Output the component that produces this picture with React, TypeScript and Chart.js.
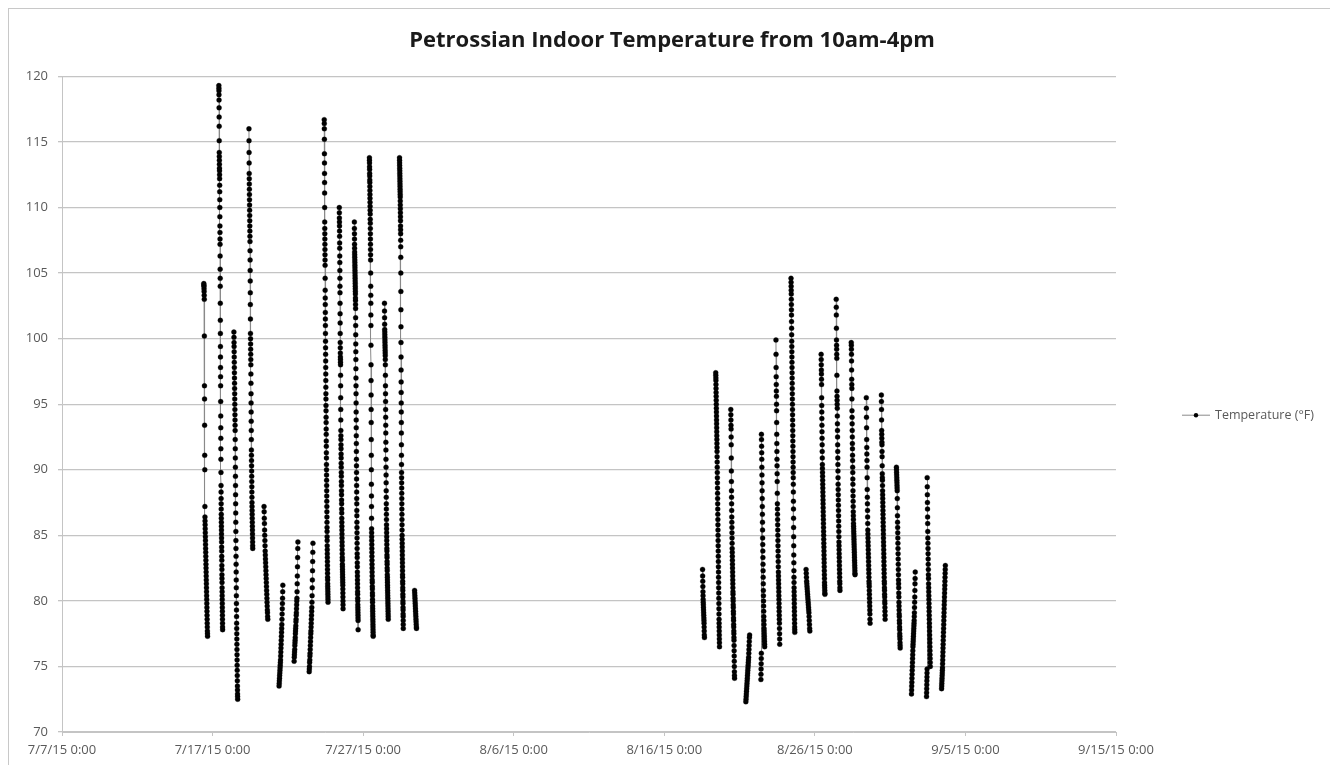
import React, { useEffect, useRef } from 'react';
import { Chart, registerables } from 'chart.js';

Chart.register(...registerables);

const TITLE = 'Petrossian Indoor Temperature from 10am-4pm';
const SERIES_LABEL = 'Temperature (°F)';

// axis range
const X_START = '2015-07-07';
const X_END = '2015-09-15';
const X_STEP_DAYS = 10;
const Y_MIN = 70;
const Y_MAX = 120;
const Y_STEP = 5;

// readings (°F), in time order, for each logged day (10am-4pm window)
const jul16 = [104.2, 104.1, 104.0, 103.8, 103.6, 103.3, 103.0, 100.2, 96.4, 95.4, 93.4, 91.1, 90.0, 87.2, 86.4, 86.1, 85.8, 85.5, 85.2, 84.9, 84.6, 84.3, 84.0, 83.7, 83.4, 83.1, 82.8, 82.5, 82.2, 81.9, 81.6, 81.3, 81.0, 80.7, 80.4, 80.1, 79.8, 79.5, 79.2, 78.9, 78.6, 78.3, 78.0, 77.7, 77.5, 77.3];
const jul17 = [119.3, 119.1, 118.9, 118.6, 118.2, 117.6, 116.9, 116.2, 115.1, 114.2, 113.9, 113.6, 113.3, 113.0, 112.8, 112.5, 112.2, 111.7, 111.2, 110.6, 110.0, 109.3, 108.6, 108.1, 107.6, 107.2, 106.3, 105.3, 104.6, 104.0, 102.7, 101.4, 100.4, 99.4, 98.6, 97.8, 97.1, 96.4, 95.2, 94.1, 93.2, 92.4, 91.6, 90.8, 89.8, 88.8, 88.3, 87.8, 87.4, 87.0, 86.6, 86.3, 86.0, 85.7, 85.4, 85.1, 84.8, 84.5, 84.1, 83.8, 83.4, 83.1, 82.7, 82.4, 82.0, 81.7, 81.4, 81.0, 80.7, 80.4, 80.1, 79.8, 79.5, 79.2, 78.9, 78.6, 78.3, 78.0, 77.8];
const jul18 = [100.5, 100.1, 99.7, 99.4, 99.0, 98.6, 98.2, 97.8, 97.4, 97.0, 96.6, 96.2, 95.8, 95.4, 95.0, 94.6, 94.2, 93.8, 93.4, 93.0, 92.3, 91.6, 90.9, 90.2, 89.5, 88.8, 88.1, 87.4, 86.7, 86.0, 85.3, 84.6, 84.0, 83.4, 82.8, 82.2, 81.6, 81.0, 80.4, 79.8, 79.3, 78.8, 78.3, 77.9, 77.5, 77.1, 76.7, 76.3, 75.9, 75.5, 75.1, 74.7, 74.3, 73.9, 73.5, 73.2, 72.9, 72.7, 72.5];
const jul19 = [116.0, 115.1, 114.2, 113.4, 112.6, 112.2, 111.8, 111.4, 111.0, 110.6, 110.2, 109.8, 109.4, 109.0, 108.6, 108.2, 107.8, 107.4, 106.7, 106.0, 105.2, 104.4, 103.5, 102.6, 101.5, 100.4, 100.0, 99.6, 99.2, 98.8, 98.4, 98.0, 97.3, 96.6, 95.8, 95.1, 94.4, 93.7, 93.0, 92.3, 91.5, 91.1, 90.7, 90.3, 89.9, 89.5, 89.1, 88.7, 88.3, 87.9, 87.5, 87.2, 86.9, 86.6, 86.3, 86.0, 85.7, 85.4, 85.1, 84.8, 84.5, 84.2, 84.0];
const jul20 = [87.2, 86.8, 86.3, 85.9, 85.4, 85.0, 84.6, 84.2, 83.8, 83.5, 83.2, 82.9, 82.6, 82.3, 82.0, 81.7, 81.4, 81.1, 80.8, 80.5, 80.2, 79.9, 79.6, 79.3, 79.1, 78.8, 78.6];
const jul21 = [73.5, 73.7, 73.9, 74.1, 74.3, 74.5, 74.7, 74.9, 75.1, 75.3, 75.5, 75.8, 76.1, 76.4, 76.7, 77.0, 77.3, 77.6, 77.9, 78.2, 78.6, 79.0, 79.4, 79.8, 80.2, 80.7, 81.2];
const jul22 = [75.4, 75.7, 75.9, 76.1, 76.3, 76.6, 76.8, 77.0, 77.2, 77.5, 77.7, 77.9, 78.1, 78.4, 78.6, 78.9, 79.1, 79.4, 79.7, 80.0, 80.2, 80.7, 81.3, 81.9, 82.6, 83.3, 84.0, 84.5];
const jul23 = [74.6, 74.8, 75.0, 75.3, 75.5, 75.8, 76.0, 76.3, 76.6, 76.9, 77.2, 77.5, 77.7, 78.0, 78.3, 78.6, 78.9, 79.2, 79.5, 79.9, 80.4, 81.0, 81.6, 82.3, 83.0, 83.7, 84.4];
const jul24 = [116.7, 116.4, 116.0, 115.2, 114.1, 113.4, 112.6, 111.9, 111.1, 110.0, 108.9, 108.4, 108.0, 107.6, 107.2, 106.8, 106.4, 106.0, 105.6, 104.6, 103.7, 103.1, 102.6, 102.0, 101.5, 101.0, 100.4, 99.8, 99.3, 98.8, 98.3, 97.8, 97.3, 96.8, 96.3, 95.8, 95.4, 94.9, 94.5, 94.0, 93.6, 93.1, 92.7, 92.2, 91.8, 91.3, 90.9, 90.4, 90.0, 89.6, 89.2, 88.8, 88.4, 88.0, 87.6, 87.2, 86.8, 86.4, 86.0, 85.6, 85.3, 84.9, 84.6, 84.2, 83.9, 83.6, 83.3, 83.0, 82.7, 82.4, 82.1, 81.8, 81.6, 81.3, 81.1, 80.9, 80.7, 80.5, 80.3, 80.1, 79.9];
const jul25 = [110.0, 109.6, 109.2, 108.9, 108.6, 108.2, 107.8, 107.3, 106.9, 106.3, 105.8, 105.2, 104.6, 104.0, 103.5, 102.7, 101.9, 101.2, 100.4, 99.7, 99.3, 98.9, 98.6, 98.4, 98.2, 98.0, 97.2, 96.4, 95.5, 94.6, 93.8, 93.0, 92.6, 92.3, 91.9, 91.6, 91.2, 90.9, 90.5, 90.2, 89.8, 89.5, 89.1, 88.8, 88.4, 88.1, 87.7, 87.4, 87.0, 86.7, 86.3, 86.0, 85.7, 85.4, 85.1, 84.8, 84.5, 84.2, 83.9, 83.6, 83.3, 83.1, 82.8, 82.6, 82.4, 82.2, 82.0, 81.8, 81.6, 81.4, 81.2, 80.9, 80.6, 80.3, 80.0, 79.7, 79.4];
const jul26 = [108.9, 108.4, 108.0, 107.6, 107.2, 106.9, 106.6, 106.4, 106.2, 106.0, 105.8, 105.6, 105.4, 105.2, 105.0, 104.8, 104.6, 104.4, 104.2, 104.0, 103.8, 103.6, 103.4, 103.1, 102.9, 102.6, 102.3, 101.6, 101.0, 100.3, 99.6, 99.0, 98.4, 97.7, 97.0, 96.4, 95.8, 95.1, 94.4, 93.8, 93.2, 92.6, 92.0, 91.4, 90.8, 90.3, 89.8, 89.3, 88.8, 88.3, 87.8, 87.4, 86.9, 86.5, 86.0, 85.6, 85.2, 84.8, 84.4, 84.0, 83.6, 83.3, 82.9, 82.6, 82.2, 81.9, 81.6, 81.3, 81.0, 80.7, 80.5, 80.2, 80.0, 79.7, 79.5, 79.3, 79.1, 78.9, 78.7, 78.5, 77.8];
const jul27 = [113.8, 113.6, 113.4, 113.1, 112.9, 112.6, 112.4, 112.1, 111.9, 111.6, 111.3, 111.0, 110.7, 110.4, 110.1, 109.8, 109.5, 109.1, 108.8, 108.4, 108.0, 107.6, 107.2, 106.8, 106.4, 106.0, 105.0, 104.0, 103.3, 102.7, 101.8, 101.0, 99.5, 98.0, 96.8, 95.7, 94.6, 93.6, 92.3, 91.1, 90.0, 88.9, 88.0, 87.2, 86.3, 85.5, 85.2, 84.9, 84.6, 84.3, 84.0, 83.7, 83.4, 83.1, 82.8, 82.5, 82.2, 81.9, 81.6, 81.4, 81.1, 80.9, 80.6, 80.4, 80.1, 79.9, 79.6, 79.4, 79.2, 79.0, 78.8, 78.6, 78.4, 78.2, 78.0, 77.8, 77.6, 77.4, 77.3];
const jul28 = [102.7, 102.1, 101.6, 101.1, 100.7, 100.5, 100.3, 100.1, 99.9, 99.7, 99.5, 99.3, 99.1, 98.9, 98.7, 98.4, 98.0, 97.2, 96.4, 95.8, 95.2, 94.6, 94.0, 93.4, 92.8, 92.1, 91.5, 90.8, 90.2, 89.6, 89.0, 88.4, 87.9, 87.4, 87.0, 86.6, 86.2, 85.8, 85.5, 85.2, 84.9, 84.6, 84.3, 84.0, 83.8, 83.5, 83.3, 83.0, 82.8, 82.5, 82.3, 82.0, 81.8, 81.6, 81.4, 81.2, 81.0, 80.8, 80.6, 80.4, 80.2, 80.0, 79.8, 79.6, 79.4, 79.2, 79.0, 78.8, 78.6];
const jul29 = [113.8, 113.6, 113.4, 113.2, 113.0, 112.8, 112.6, 112.4, 112.2, 112.0, 111.8, 111.6, 111.4, 111.2, 111.0, 110.8, 110.5, 110.2, 109.9, 109.6, 109.3, 109.0, 108.6, 108.3, 108.0, 107.5, 107.0, 106.2, 105.0, 103.6, 102.2, 100.9, 99.7, 98.6, 97.6, 96.7, 95.9, 95.1, 94.4, 93.6, 92.8, 91.9, 91.1, 90.4, 89.8, 89.4, 89.0, 88.6, 88.2, 87.8, 87.4, 87.0, 86.6, 86.2, 85.8, 85.4, 85.0, 84.7, 84.4, 84.1, 83.8, 83.5, 83.2, 82.9, 82.6, 82.3, 82.0, 81.8, 81.5, 81.3, 81.0, 80.8, 80.5, 80.3, 80.0, 79.8, 79.5, 79.3, 79.0, 78.8, 78.5, 78.2, 77.9];
const jul30 = [80.8, 80.6, 80.4, 80.2, 80.0, 79.8, 79.6, 79.4, 79.2, 79.0, 78.8, 78.6, 78.4, 78.2, 78.0, 77.9];

const aug18 = [82.4, 81.9, 81.5, 81.1, 80.7, 80.4, 80.1, 79.9, 79.7, 79.5, 79.3, 79.1, 78.9, 78.7, 78.5, 78.3, 78.0, 77.7, 77.4, 77.2];
const aug19 = [97.4, 97.2, 97.0, 96.8, 96.5, 96.2, 95.9, 95.6, 95.3, 95.0, 94.7, 94.4, 94.1, 93.8, 93.5, 93.2, 92.9, 92.6, 92.3, 92.0, 91.7, 91.4, 91.0, 90.6, 90.2, 89.8, 89.4, 89.0, 88.6, 88.2, 87.8, 87.4, 87.0, 86.6, 86.2, 85.8, 85.4, 85.0, 84.6, 84.2, 83.8, 83.4, 83.0, 82.6, 82.2, 81.8, 81.4, 81.0, 80.6, 80.2, 79.8, 79.4, 79.0, 78.6, 78.3, 78.0, 77.7, 77.4, 77.1, 76.8, 76.5];
const aug20 = [94.6, 94.2, 93.8, 93.4, 93.1, 92.5, 91.9, 90.9, 89.9, 89.1, 88.4, 87.9, 87.4, 86.9, 86.4, 86.0, 85.6, 85.2, 84.8, 84.4, 84.0, 83.7, 83.4, 83.1, 82.8, 82.5, 82.2, 81.9, 81.6, 81.3, 81.0, 80.7, 80.5, 80.2, 80.0, 79.7, 79.5, 79.2, 79.0, 78.7, 78.5, 78.2, 78.0, 77.7, 77.5, 77.2, 77.0, 76.6, 76.2, 75.8, 75.4, 75.0, 74.6, 74.3, 74.1];
const aug21 = [72.3, 72.5, 72.7, 72.9, 73.1, 73.3, 73.5, 73.7, 73.9, 74.1, 74.3, 74.5, 74.7, 74.9, 75.1, 75.3, 75.5, 75.7, 76.0, 76.3, 76.6, 76.9, 77.2, 77.4];
const aug22 = [74.0, 74.4, 74.8, 75.2, 75.6, 76.0, 92.7, 92.3, 91.8, 91.3, 90.8, 90.2, 89.6, 89.0, 88.4, 87.8, 87.2, 86.6, 86.0, 85.4, 84.8, 84.3, 83.8, 83.3, 82.8, 82.3, 81.8, 81.3, 80.8, 80.4, 80.0, 79.6, 79.2, 78.8, 78.5, 78.2, 77.9, 77.7, 77.5, 77.3, 77.1, 76.9, 76.7, 76.5];
const aug23 = [99.9, 98.8, 97.8, 97.1, 96.5, 96.0, 95.6, 95.0, 94.5, 93.6, 92.7, 92.0, 91.4, 90.8, 90.3, 89.7, 89.1, 88.2, 87.4, 87.0, 86.6, 86.2, 85.8, 85.4, 85.0, 84.6, 84.2, 83.8, 83.4, 83.0, 82.6, 82.2, 81.9, 81.6, 81.3, 81.0, 80.7, 80.4, 80.1, 79.8, 79.5, 79.2, 78.9, 78.6, 78.3, 77.9, 77.5, 77.1, 76.7];
const aug24 = [104.6, 104.3, 104.0, 103.7, 103.4, 103.0, 102.6, 102.2, 101.8, 101.3, 100.8, 100.3, 99.8, 99.4, 99.0, 98.6, 98.2, 97.8, 97.4, 97.0, 96.6, 96.2, 95.8, 95.4, 95.0, 94.6, 94.2, 93.8, 93.4, 93.0, 92.6, 92.2, 91.8, 91.4, 91.0, 90.6, 90.2, 89.8, 89.4, 88.9, 88.3, 87.6, 87.0, 86.3, 85.6, 84.9, 84.2, 83.5, 82.9, 82.3, 81.8, 81.4, 81.0, 80.7, 80.4, 80.1, 79.8, 79.5, 79.2, 78.9, 78.6, 78.3, 78.0, 77.8, 77.6];
const aug25 = [82.4, 82.1, 81.8, 81.5, 81.3, 81.1, 80.9, 80.7, 80.5, 80.3, 80.1, 79.9, 79.7, 79.5, 79.3, 79.1, 78.8, 78.5, 78.2, 77.9, 77.7];
const aug26 = [98.8, 98.4, 98.0, 97.6, 97.3, 96.9, 96.5, 95.5, 94.9, 94.4, 93.9, 93.4, 92.9, 92.4, 91.9, 91.4, 90.9, 90.4, 90.1, 89.8, 89.5, 89.2, 88.9, 88.6, 88.3, 88.0, 87.7, 87.4, 87.1, 86.8, 86.5, 86.2, 85.9, 85.6, 85.3, 85.0, 84.7, 84.4, 84.1, 83.8, 83.5, 83.2, 82.9, 82.6, 82.3, 82.0, 81.7, 81.4, 81.2, 81.0, 80.8, 80.6, 80.5];
const aug27 = [103.0, 102.4, 101.8, 100.8, 99.9, 99.5, 99.2, 98.8, 98.5, 97.2, 96.0, 95.6, 95.3, 95.0, 94.7, 94.1, 93.5, 93.0, 92.5, 91.9, 91.4, 90.9, 90.4, 89.9, 89.4, 88.9, 88.5, 88.1, 87.7, 87.3, 86.9, 86.5, 86.1, 85.7, 85.3, 84.9, 84.5, 84.2, 83.9, 83.6, 83.3, 83.0, 82.7, 82.4, 82.1, 81.8, 81.5, 81.3, 81.0, 80.8];
const aug28 = [99.7, 99.5, 99.2, 98.8, 98.3, 97.6, 96.9, 96.5, 96.2, 95.4, 94.5, 94.0, 93.5, 93.0, 92.5, 92.0, 91.6, 91.1, 90.7, 90.2, 89.8, 89.3, 88.9, 88.4, 88.0, 87.6, 87.2, 86.8, 86.5, 86.2, 85.9, 85.7, 85.5, 85.3, 85.1, 84.9, 84.7, 84.5, 84.3, 84.1, 83.9, 83.7, 83.5, 83.3, 83.1, 82.9, 82.7, 82.5, 82.3, 82.1, 82.0];
const aug29 = [95.5, 94.7, 94.0, 93.2, 92.3, 91.7, 91.2, 90.7, 90.2, 89.4, 88.5, 87.9, 87.4, 86.9, 86.4, 85.9, 85.4, 85.1, 84.8, 84.5, 84.2, 83.9, 83.6, 83.3, 83.0, 82.7, 82.4, 82.1, 81.8, 81.5, 81.3, 81.1, 80.8, 80.5, 80.2, 79.9, 79.6, 79.3, 79.0, 78.6, 78.3];
const aug30 = [95.7, 95.2, 94.6, 93.8, 93.0, 92.7, 92.4, 92.1, 91.9, 91.4, 91.0, 90.3, 89.7, 89.4, 89.2, 88.8, 88.4, 88.1, 87.8, 87.5, 87.2, 86.9, 86.6, 86.3, 86.0, 85.7, 85.4, 85.1, 84.8, 84.5, 84.2, 83.9, 83.6, 83.3, 83.0, 82.7, 82.4, 82.1, 81.8, 81.5, 81.3, 81.0, 80.8, 80.5, 80.3, 80.0, 79.8, 79.5, 79.2, 78.9, 78.6];
const aug31 = [90.2, 90.0, 89.8, 89.6, 89.4, 89.2, 89.0, 88.8, 88.6, 88.4, 87.8, 87.1, 86.5, 86.0, 85.6, 85.2, 84.8, 84.4, 84.0, 83.6, 83.2, 82.8, 82.4, 82.0, 81.6, 81.3, 81.0, 80.6, 80.3, 79.9, 79.6, 79.3, 79.0, 78.8, 78.5, 78.3, 78.0, 77.8, 77.5, 77.3, 77.1, 76.8, 76.6, 76.4];
const sep01 = [72.9, 73.2, 73.5, 73.8, 74.1, 74.4, 74.7, 75.0, 75.3, 75.6, 75.9, 76.2, 76.5, 76.7, 76.9, 77.1, 77.3, 77.5, 77.7, 77.9, 78.1, 78.3, 78.5, 78.8, 79.1, 79.5, 79.9, 80.3, 80.8, 81.3, 81.7, 82.2];
const sep02 = [72.7, 73.0, 73.3, 73.6, 73.9, 74.2, 74.5, 74.8, 89.4, 88.7, 88.1, 87.5, 87.0, 86.4, 85.9, 85.3, 84.8, 84.4, 84.0, 83.6, 83.2, 82.8, 82.4, 82.0, 81.7, 81.3, 81.0, 80.7, 80.4, 80.1, 79.8, 79.5, 79.2, 78.9, 78.6, 78.3, 78.0, 77.7, 77.4, 77.1, 76.8, 76.5, 76.2, 75.9, 75.6, 75.3, 75.0];
const sep03 = [73.3, 73.5, 73.7, 73.9, 74.1, 74.3, 74.5, 74.7, 74.9, 75.2, 75.5, 75.8, 76.1, 76.4, 76.7, 77.0, 77.3, 77.6, 77.9, 78.2, 78.5, 78.8, 79.1, 79.4, 79.7, 80.0, 80.3, 80.6, 80.9, 81.2, 81.5, 81.8, 82.1, 82.4, 82.7];

const dayDates = [
  '2015-07-16', '2015-07-17', '2015-07-18', '2015-07-19', '2015-07-20', '2015-07-21', '2015-07-22', '2015-07-23',
  '2015-07-24', '2015-07-25', '2015-07-26', '2015-07-27', '2015-07-28', '2015-07-29', '2015-07-30',
  '2015-08-18', '2015-08-19', '2015-08-20', '2015-08-21', '2015-08-22', '2015-08-23', '2015-08-24', '2015-08-25',
  '2015-08-26', '2015-08-27', '2015-08-28', '2015-08-29', '2015-08-30', '2015-08-31', '2015-09-01', '2015-09-02', '2015-09-03',
];
const dayReadings = [
  jul16, jul17, jul18, jul19, jul20, jul21, jul22, jul23, jul24, jul25, jul26, jul27, jul28, jul29, jul30,
  aug18, aug19, aug20, aug21, aug22, aug23, aug24, aug25, aug26, aug27, aug28, aug29, aug30, aug31, sep01, sep02, sep03,
];
// logging window (hour of day) for each day; partial days at the edges
const dayStartHour = [10, 10, 10, 10, 10, 10, 10, 10, 10, 10, 10, 10, 10, 10, 10, 13, 10, 10, 10, 10, 10, 10, 10, 10, 10, 10, 10, 10, 10, 10, 10, 10];
const dayEndHour = [16, 16, 16, 16, 16, 16, 16, 16, 16, 16, 16, 16, 16, 16, 13, 16, 16, 16, 16, 16, 16, 16, 16, 16, 16, 16, 16, 16, 16, 16, 16, 16];

const DAY_MS = 86400000;
const HOUR_MS = 3600000;

function parseDay(s: string): number {
  const [y, m, d] = s.split('-').map(Number);
  return Date.UTC(y, m - 1, d);
}

function buildPoints() {
  const pts: { x: number; y: number | null }[] = [];
  dayDates.forEach((date, k) => {
    const base = parseDay(date);
    const vals = dayReadings[k];
    const s = dayStartHour[k];
    const e = dayEndHour[k];
    const n = vals.length;
    vals.forEach((v, i) => {
      const h = n > 1 ? s + ((e - s) * i) / (n - 1) : s;
      pts.push({ x: base + h * HOUR_MS, y: v });
    });
    // break the line between logging days
    pts.push({ x: base + (e + 1) * HOUR_MS, y: null });
  });
  return pts;
}

function fmtTick(v: number): string {
  const d = new Date(v);
  return `${d.getUTCMonth() + 1}/${d.getUTCDate()}/${String(d.getUTCFullYear()).slice(2)} 0:00`;
}

const AXIS_COLOR = '#c4c4c4';
const GRID_COLOR = '#c4c4c4';
const TEXT_COLOR = '#595959';
const LINE_COLOR = '#8a8a8a';
const FONT = '"Open Sans", "DejaVu Sans", sans-serif';

const sideLegend = {
  id: 'sideLegend',
  afterDraw(chart: any) {
    const ctx = chart.ctx;
    const ds = chart.data.datasets[0];
    const area = chart.chartArea;
    const y = (area.top + area.bottom) / 2 + 11;
    const x0 = area.right + 66;
    ctx.save();
    ctx.strokeStyle = LINE_COLOR;
    ctx.lineWidth = 1;
    ctx.beginPath();
    ctx.moveTo(x0, y);
    ctx.lineTo(x0 + 28, y);
    ctx.stroke();
    ctx.fillStyle = '#000';
    ctx.beginPath();
    ctx.arc(x0 + 14, y, 2.2, 0, Math.PI * 2);
    ctx.fill();
    ctx.fillStyle = TEXT_COLOR;
    ctx.font = `12.5px ${FONT}`;
    ctx.textBaseline = 'middle';
    ctx.textAlign = 'left';
    ctx.fillText(ds.label, x0 + 33, y);
    ctx.restore();
  },
};

export default function App() {
  const ref = useRef<HTMLCanvasElement | null>(null);

  useEffect(() => {
    if (!ref.current) return;
    const chart = new Chart(ref.current, {
      type: 'line',
      data: {
        datasets: [
          {
            label: SERIES_LABEL,
            data: buildPoints() as any,
            borderColor: LINE_COLOR,
            borderWidth: 1,
            pointRadius: 2.5,
            pointBackgroundColor: '#000',
            pointBorderColor: '#111',
            pointBorderWidth: 0.3,
            spanGaps: false,
            tension: 0,
            yAxisID: 'y',
          },
        ],
      },
      options: {
        responsive: false,
        animation: false,
        events: [],
        parsing: false as any,
        layout: { padding: { left: 0, right: 0, top: 0, bottom: 0 } },
        plugins: {
          legend: { display: false },
          tooltip: { enabled: false },
          title: {
            display: true,
            text: TITLE,
            color: '#1a1a1a',
            font: { family: FONT, size: 22, weight: 'bold' },
            padding: { top: 19, bottom: 22 },
          },
        },
        scales: {
          x: {
            type: 'linear',
            min: parseDay(X_START),
            max: parseDay(X_END),
            afterFit: (scale: any) => {
              scale.height = 34;
            },
            ticks: {
              stepSize: X_STEP_DAYS * DAY_MS,
              autoSkip: false,
              maxRotation: 0,
              color: TEXT_COLOR,
              font: { family: FONT, size: 13 },
              padding: 6,
              callback: (v: any) => fmtTick(Number(v)),
            },
            grid: {
              drawOnChartArea: false,
              drawTicks: true,
              tickLength: 4,
              color: AXIS_COLOR,
            },
            border: { display: true, color: AXIS_COLOR },
          },
          y: {
            type: 'linear',
            position: 'left',
            min: Y_MIN,
            max: Y_MAX,
            afterFit: (scale: any) => {
              scale.width = 53;
            },
            ticks: {
              stepSize: Y_STEP,
              color: TEXT_COLOR,
              font: { family: FONT, size: 13 },
              padding: 10,
            },
            grid: {
              color: GRID_COLOR,
              lineWidth: 1.3,
              drawTicks: true,
              tickLength: 4,
            },
            border: { display: true, color: AXIS_COLOR },
          },
          // empty right-hand band that holds the series key
          keyBand: {
            type: 'linear',
            position: 'right',
            display: true,
            afterFit: (scale: any) => {
              scale.width = 219;
            },
            ticks: { display: false },
            grid: { display: false, drawTicks: false },
            border: { display: false },
          },
        },
      },
      plugins: [sideLegend],
    });
    return () => chart.destroy();
  }, []);

  return (
    <div
      style={{
        width: 1328,
        height: 759,
        border: '1px solid #c8c8c8',
        boxSizing: 'border-box',
        background: '#fff',
      }}
    >
      <canvas ref={ref} width={1326} height={757} style={{ display: 'block' }} />
    </div>
  );
}
